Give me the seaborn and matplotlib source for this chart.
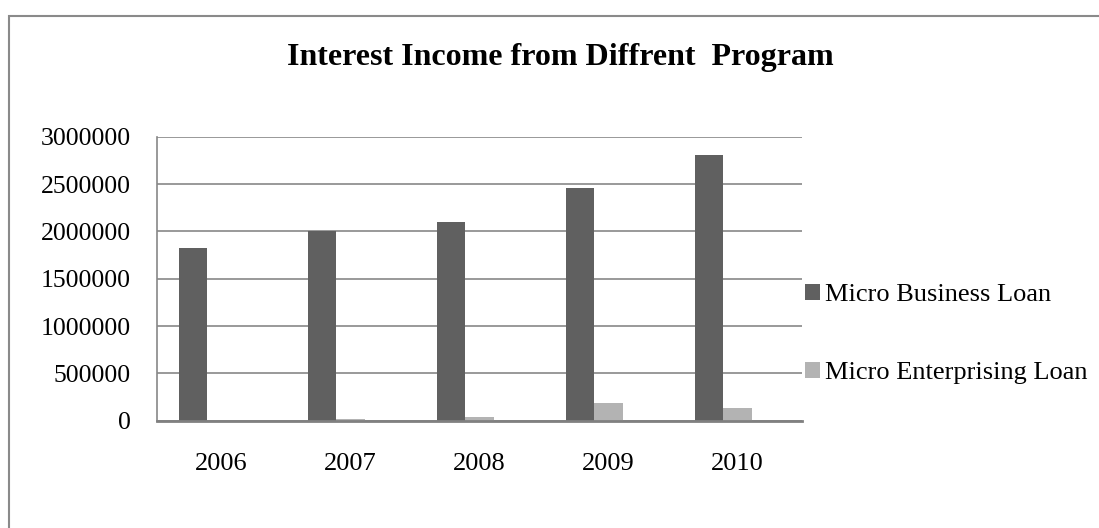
import numpy as np
import pandas as pd
import matplotlib
matplotlib.use("Agg")
import matplotlib.pyplot as plt
from matplotlib.patches import Patch, Rectangle
import seaborn as sns

# values
years = ["2006", "2007", "2008", "2009", "2010"]
business_loan = [1820000, 2005000, 2095000, 2455000, 2805000]
enterprising_loan = [0, 15000, 35000, 190000, 135000]
series_names = ["Micro Business Loan", " ", "Micro Enterprising Loan"]
yticks = [0, 500000, 1000000, 1500000, 2000000, 2500000, 3000000]

df = pd.DataFrame({
    "year": years * 2,
    "program": [series_names[0]] * 5 + [series_names[2]] * 5,
    "income": business_loan + enterprising_loan,
})
# order of bars inside a group: business, enterprising, then the empty series
bar_order = [series_names[0], series_names[2], series_names[1]]

sns.set_style("white")
plt.rcParams["font.family"] = ["Liberation Serif", "DejaVu Serif"]
plt.rcParams["text.color"] = "black"

dark = "#606060"
light = "#b3b3b3"
grid_col = "#878787"

fig = plt.figure(figsize=(10.99, 5.28), dpi=100)
ax = fig.add_axes([0.1429, 0.2032, 0.5866, 0.5379])

sns.barplot(data=df, x="year", y="income", hue="program",
            hue_order=bar_order, order=years,
            palette={series_names[0]: dark, series_names[2]: light, series_names[1]: "white"},
            width=0.663, gap=0, linewidth=0, errorbar=None, ax=ax, legend=False)

ax.set_ylim(0, 3000000)
ax.set_xlim(-0.5, 4.5)
ax.set_yticks(yticks)
ax.set_yticklabels([str(v) for v in yticks])
ax.set_xlabel("")
ax.set_ylabel("")
ax.tick_params(axis="both", length=0, colors="black")
ax.tick_params(axis="y", pad=19, labelsize=18.5)
ax.tick_params(axis="x", pad=23.5, labelsize=19)

ax.yaxis.grid(True, color=grid_col, linewidth=1.2)
ax.set_axisbelow(True)
for side in ["top", "right"]:
    ax.spines[side].set_visible(False)
ax.spines["left"].set_color(grid_col)
ax.spines["left"].set_linewidth(1.2)
ax.spines["bottom"].set_color("#808080")
ax.spines["bottom"].set_linewidth(2)

handles = [Patch(facecolor=dark, edgecolor="none"),
           Patch(facecolor="none", edgecolor="none"),
           Patch(facecolor=light, edgecolor="none")]
fig.legend(handles, series_names, loc="center left",
           bbox_to_anchor=(805 / 1099, 1 - 334 / 528), frameon=False,
           fontsize=19, handlelength=0.55, handleheight=0.55,
           handletextpad=0.2, labelspacing=0.63, borderaxespad=0,
           borderpad=0, labelcolor="black")

fig.text(0.5096, 1 - 65 / 528, "Interest Income from Diffrent  Program",
         ha="center", va="baseline", fontsize=23, fontweight="bold",
         color="black")

# outer chart border, cut off by the image on the right and bottom
fig.patches.append(Rectangle((8.7 / 1099, -0.1), 1.2, 1.1 - 15.7 / 528,
                             transform=fig.transFigure, fill=False,
                             edgecolor="#8a8a8a", linewidth=1.5))

fig.savefig("out.png", dpi=100)
